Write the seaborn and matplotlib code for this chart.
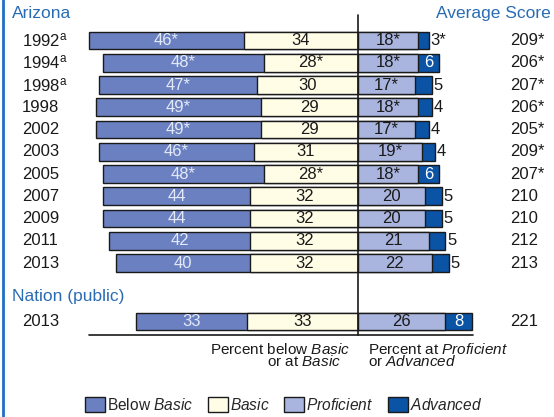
import matplotlib
matplotlib.use("Agg")
import matplotlib.pyplot as plt
from matplotlib.patches import Patch
from matplotlib.lines import Line2D
import seaborn as sns
import pandas as pd

# ---------------- data ----------------
years = ["1992", "1994", "1998", "1998", "2002", "2003", "2005", "2007", "2009", "2011", "2013"]
accommodation_note = [True, True, True, False, False, False, False, False, False, False, False]
below_basic = [46, 48, 47, 49, 49, 46, 48, 44, 44, 42, 40]
basic = [34, 28, 30, 29, 29, 31, 28, 32, 32, 32, 32]
proficient = [18, 18, 17, 18, 17, 19, 18, 20, 20, 21, 22]
advanced = [3, 6, 5, 4, 4, 4, 6, 5, 5, 5, 5]
below_basic_lbl = ["46*", "48*", "47*", "49*", "49*", "46*", "48*", "44", "44", "42", "40"]
basic_lbl = ["34", "28*", "30", "29", "29", "31", "28*", "32", "32", "32", "32"]
proficient_lbl = ["18*", "18*", "17*", "18*", "17*", "19*", "18*", "20", "20", "21", "22"]
advanced_lbl = ["3*", "6", "5", "4", "4", "4", "6", "5", "5", "5", "5"]
avg_score = ["209*", "206*", "207*", "206*", "205*", "209*", "207*", "210", "210", "212", "213"]

nation_year = "2013"
nation_below_basic = 33
nation_basic = 33
nation_proficient = 26
nation_advanced = 8
nation_avg = "221"

# ---------------- style ----------------
sns.set_theme(style="white")
plt.rcParams["font.family"] = ["Liberation Sans", "DejaVu Sans"]
plt.rcParams["mathtext.fontset"] = "custom"
plt.rcParams["mathtext.rm"] = "Liberation Sans"
plt.rcParams["mathtext.it"] = "Liberation Sans:italic"
plt.rcParams["mathtext.bf"] = "Liberation Sans:bold"

C_BELOW = "#6a80c1"
C_BASIC = "#fffde6"
C_PROF = "#a9b5de"
C_ADV = "#0b53a5"
EDGE = "#1a1a1a"
HEAD = "#2a6cb3"
TXT = "#1a1a1a"
LIGHT = "#e3e9f7"

W, H = 554, 417
CENTER_PX = 358.0
PX_PER_UNIT = 3.36


def px2x(px):
    return (px - CENTER_PX) / PX_PER_UNIT


# row layout (pixel y positions)
row_pos = [40.5 + 22.25 * i for i in range(len(years))]
nation_pos = 321.5

all_pos = row_pos + [nation_pos]
all_below = below_basic + [nation_below_basic]
all_basic = basic + [nation_basic]
all_prof = proficient + [nation_proficient]
all_adv = advanced + [nation_advanced]
all_below_lbl = below_basic_lbl + [str(nation_below_basic)]
all_basic_lbl = basic_lbl + [str(nation_basic)]
all_prof_lbl = proficient_lbl + [str(nation_proficient)]
all_adv_lbl = advanced_lbl + [str(nation_advanced)]

df = pd.DataFrame({
    "pos": all_pos,
    "neg_total": [-(a + b) for a, b in zip(all_below, all_basic)],
    "neg_basic": [-b for b in all_basic],
    "pos_total": [p + a for p, a in zip(all_prof, all_adv)],
    "pos_prof": all_prof,
})

fig = plt.figure(figsize=(W / 100, H / 100), dpi=100)
ax = fig.add_axes([0, 0, 1, 1])

common = dict(data=df, y="pos", orient="y", native_scale=True, errorbar=None,
              saturation=1, edgecolor=EDGE, linewidth=1.0, ax=ax)
sns.barplot(x="neg_total", color=C_BELOW, **common)
sns.barplot(x="neg_basic", color=C_BASIC, **common)
sns.barplot(x="pos_total", color=C_ADV, **common)
sns.barplot(x="pos_prof", color=C_PROF, **common)

ax.set_xlim(px2x(0), px2x(W))
ax.set_ylim(H, 0)
ax.axis("off")

FS = 12
# bar labels
for i, y in enumerate(all_pos):
    b, ba, p, a = all_below[i], all_basic[i], all_prof[i], all_adv[i]
    ax.text(-(ba + b / 2), y, all_below_lbl[i], ha="center", va="center",
            fontsize=FS, color=LIGHT)
    ax.text(-ba / 2, y, all_basic_lbl[i], ha="center", va="center",
            fontsize=FS, color=TXT)
    ax.text(p / 2, y, all_prof_lbl[i], ha="center", va="center",
            fontsize=FS, color=TXT)
    if a >= 6:
        ax.text(p + a / 2, y, all_adv_lbl[i], ha="center", va="center",
                fontsize=FS, color="white")
    else:
        ax.text(p + a + 0.5, y, all_adv_lbl[i], ha="left", va="center",
                fontsize=FS, color=TXT)

# year labels and average scores
for i, y in enumerate(row_pos):
    lbl = years[i] + (r"$^{\mathrm{a}}$" if accommodation_note[i] else "")
    ax.text(px2x(22), y, lbl, ha="left", va="center", fontsize=FS, color=TXT)
    ax.text(px2x(510), y, avg_score[i], ha="left", va="center", fontsize=FS, color=TXT)
ax.text(px2x(22), nation_pos, nation_year, ha="left", va="center", fontsize=FS, color=TXT)
ax.text(px2x(510), nation_pos, nation_avg, ha="left", va="center", fontsize=FS, color=TXT)

# headings
ax.text(px2x(12), 13.5, "Arizona", ha="left", va="center", fontsize=12.5, color=HEAD)
ax.text(px2x(551), 13.5, "Average Score", ha="right", va="center", fontsize=12.5, color=HEAD)
ax.text(px2x(12), 297, "Nation (public)", ha="left", va="center", fontsize=12.5, color=HEAD)

# reference lines
ax.plot([0, 0], [15, 335], color=EDGE, lw=1.2)
ax.plot([px2x(89), px2x(473)], [335, 335], color=EDGE, lw=1.2)

# axis annotations (two lines each, in one text object)
AFS = 11
NB = "\u00a0"
ax.text(px2x(350), 342, "Percent below $\\mathit{Basic}$\nor at $\\mathit{Basic}$" + NB * 3,
        ha="right", va="top", multialignment="right", linespacing=0.78,
        fontsize=AFS, color=TXT)
ax.text(px2x(368), 342, "Percent at $\\mathit{Proficient}$\nor $\\mathit{Advanced}$",
        ha="left", va="top", multialignment="left", linespacing=0.78,
        fontsize=AFS, color=TXT)

# legend
handles = [Patch(facecolor=c, edgecolor=EDGE, linewidth=1.0)
           for c in (C_BELOW, C_BASIC, C_PROF, C_ADV)]
labels = [r"Below $\mathit{Basic}$", r"$\mathit{Basic}$", r"$\mathit{Proficient}$",
          r"$\mathit{Advanced}$"]
ax.legend(handles, labels, ncol=4, loc="center",
          bbox_to_anchor=(283.5 / W, 1 - 405 / H), frameon=False,
          fontsize=11.2, handlelength=1.3, handleheight=1.15,
          handletextpad=0.1, columnspacing=0.95, borderaxespad=0, borderpad=0)

# left border
fig.add_artist(Line2D([2.5 / W, 2.5 / W], [0, 1], color="#1f6fc6", lw=2,
                      transform=fig.transFigure))

fig.savefig("out.png", dpi=100)
